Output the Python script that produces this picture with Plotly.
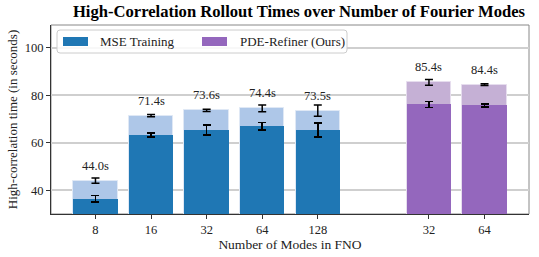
import plotly.graph_objects as go

mse_modes = ["8", "16", "32", "64", "128"]
ref_modes = ["32", "64"]

mse_total = [44.0, 71.4, 73.6, 74.4, 73.5]
mse_total_err = [1.1, 0.5, 0.5, 1.4, 2.4]
mse_base = [36.4, 63.2, 65.3, 66.9, 65.3]
mse_base_err = [1.3, 0.8, 2.1, 1.6, 2.9]

ref_total = [85.4, 84.4]
ref_total_err = [1.2, 0.4]
ref_base = [76.1, 75.7]
ref_base_err = [1.3, 0.6]

legend_names = ["MSE Training", "PDE-Refiner (Ours)"]
MSE_DARK, MSE_LIGHT = "#1f77b4", "#aec7e8"
REF_DARK, REF_LIGHT = "#9467bd", "#c5b0d5"

FONT = "Liberation Serif, DejaVu Serif, serif"
OFF = 0  # body margin removed by post_script below
W, H = 539 - OFF, 257 - OFF
ML, MR, MT, MB = 51, 10, 25, 43
PW, PH = W - ML - MR, H - MT - MB


def px(x):
    return (x - OFF - ML) / PW


def py(y):
    return 1 - (y - OFF - MT) / PH


mse_x = list(range(len(mse_modes)))
ref_x = [len(mse_modes) + 1 + i for i in range(len(ref_modes))]

fig = go.Figure()


def err(vals):
    return dict(type="data", array=vals, color="black", thickness=1.5, width=4)


fig.add_trace(go.Bar(x=mse_x, y=mse_total, width=0.8, marker=dict(color=MSE_LIGHT, line=dict(color="#dfe8f5", width=1)),
                     error_y=err(mse_total_err), showlegend=False))
fig.add_trace(go.Bar(x=mse_x, y=mse_base, width=0.8, marker=dict(color=MSE_DARK, line=dict(width=0)),
                     error_y=err(mse_base_err), showlegend=False))
fig.add_trace(go.Bar(x=ref_x, y=ref_total, width=0.8, marker=dict(color=REF_LIGHT, line=dict(color="#e6ddee", width=1)),
                     error_y=err(ref_total_err), showlegend=False))
fig.add_trace(go.Bar(x=ref_x, y=ref_base, width=0.8, marker=dict(color=REF_DARK, line=dict(width=0)),
                     error_y=err(ref_base_err), showlegend=False))

for xs, ys in ((mse_x, mse_total), (ref_x, ref_total)):
    for xv, yv in zip(xs, ys):
        fig.add_annotation(x=xv, y=yv, text=f"{yv:.1f}s", showarrow=False, yanchor="bottom",
                           yshift=6, font=dict(family=FONT, size=12.5, color="#222"))

# custom legend (matplotlib style: wide swatches, rounded box)
bx0, bx1, by0, by1 = px(57), px(347), py(30), py(53)
r = 3 / PW
ry = 3 / PH
path = (f"M {bx0+r},{by0} L {bx1-r},{by0} Q {bx1},{by0} {bx1},{by0-ry} "
        f"L {bx1},{by1+ry} Q {bx1},{by1} {bx1-r},{by1} L {bx0+r},{by1} "
        f"Q {bx0},{by1} {bx0},{by1+ry} L {bx0},{by0-ry} Q {bx0},{by0} {bx0+r},{by0} Z")
fig.add_shape(type="path", xref="paper", yref="paper", path=path,
              fillcolor="rgba(255,255,255,0.85)", line=dict(color="#cccccc", width=1), layer="above")
for (sx, tx), col, name in zip(((63, 98), (202, 238)), (MSE_DARK, REF_DARK), legend_names):
    fig.add_shape(type="rect", xref="paper", yref="paper", x0=px(sx), x1=px(sx + 25), y0=py(37), y1=py(46),
                  fillcolor=col, line=dict(width=0), layer="above")
    fig.add_annotation(xref="paper", yref="paper", x=px(tx), y=py(41.5), xanchor="left", yanchor="middle",
                       text=name, showarrow=False, font=dict(family=FONT, size=13, color="#222"))

fig.update_layout(
    width=W, height=H, barmode="overlay", showlegend=False,
    margin=dict(l=ML, r=MR, t=MT, b=MB, autoexpand=False),
    paper_bgcolor="white", plot_bgcolor="white",
    font=dict(family=FONT, size=12, color="#222"),
    title=dict(text="<b>High-Correlation Rollout Times over Number of Fourier Modes</b>",
               x=(299 - OFF) / W, xanchor="center", y=1 - (11 - OFF) / H, yanchor="middle",
               font=dict(family=FONT, size=16.6, color="black")),
    bargap=0,
)
fig.update_xaxes(range=[-0.8, ref_x[-1] + 0.8], tickvals=mse_x + ref_x, ticktext=mse_modes + ref_modes,
                 automargin=False, tickfont=dict(family=FONT, size=12.5),
                 showline=True, linecolor="#333", linewidth=1, mirror=False, ticks="outside", ticklen=4,
                 tickcolor="#333", showgrid=False, zeroline=False,
                 title=dict(text="Number of Modes in FNO", font=dict(family=FONT, size=13.5), standoff=3))
fig.update_yaxes(range=[30, 109.5], tickvals=[40, 60, 80, 100], showline=True, linecolor="#333", linewidth=1,
                 automargin=False, tickfont=dict(family=FONT, size=12.5),
                 ticks="outside", ticklen=4, tickcolor="#333", showgrid=True, gridcolor="#cfcfcf", gridwidth=1.5,
                 zeroline=False,
                 title=dict(text="High-correlation time (in seconds)", font=dict(family=FONT, size=13), standoff=4))
fig.add_shape(type="rect", xref="paper", yref="paper", x0=0, y0=0, x1=1, y1=1,
              line=dict(color="#888", width=1), layer="below")

fig.write_html("out.html", config={"displayModeBar": False},
               post_script="document.body.style.margin='0';document.body.style.padding='0';")
